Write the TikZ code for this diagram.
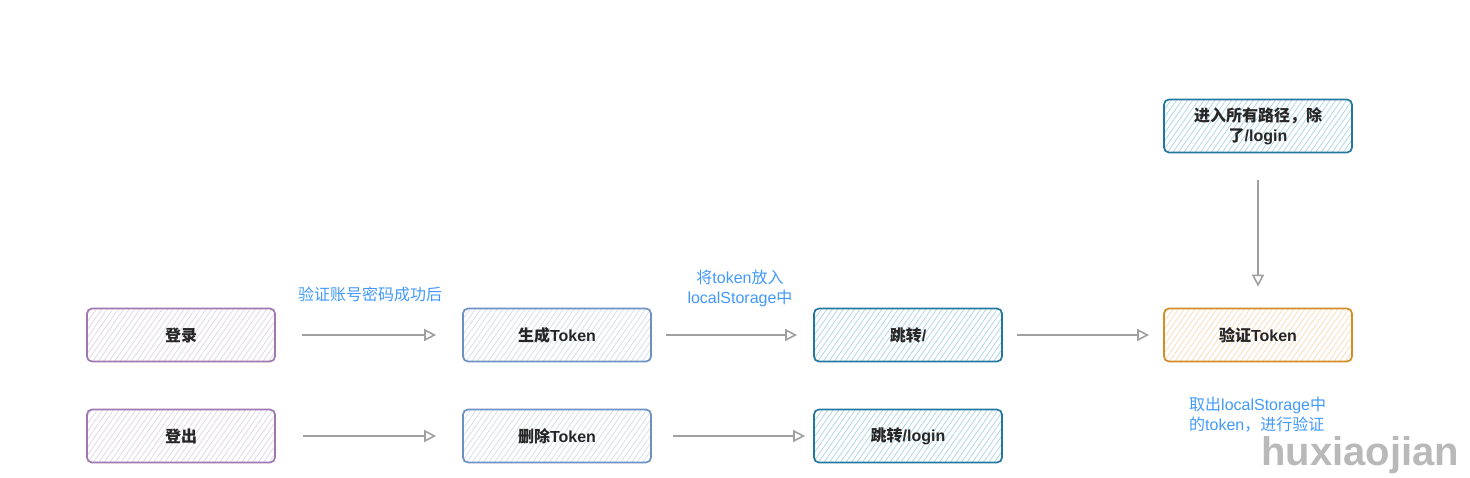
\documentclass[tikz,border=0pt]{standalone}
\usepackage{fontspec}
\setmainfont{Liberation Sans}
\newfontfamily\cjk{Noto Sans CJK SC}
\usetikzlibrary{arrows.meta,patterns.meta}
\definecolor{pstroke}{RGB}{160,120,175}
\definecolor{phatch}{RGB}{222,210,232}
\definecolor{bstroke}{RGB}{110,145,195}
\definecolor{bhatch}{RGB}{208,220,240}
\definecolor{tstroke}{RGB}{35,120,160}
\definecolor{thatch}{RGB}{170,210,230}
\definecolor{ostroke}{RGB}{210,140,40}
\definecolor{ohatch}{RGB}{250,218,180}
\definecolor{lblblue}{RGB}{66,153,250}
\definecolor{arrgray}{RGB}{160,160,160}
\tikzset{
  box/.style={rounded corners=5pt, line width=1.7pt, minimum width=188pt, minimum height=53pt,
    align=center, font=\fontsize{16}{20}\selectfont\bfseries, text=black!85,
    pattern={Lines[angle=55,distance=4.5pt,line width=0.7pt]}},
  purplebox/.style={box, draw=pstroke, pattern color=phatch},
  bluebox/.style={box, draw=bstroke, pattern color=bhatch},
  tealbox/.style={box, draw=tstroke, pattern color=thatch},
  orangebox/.style={box, draw=ostroke, pattern color=ohatch},
  conn/.style={draw=arrgray, line width=1.6pt, -{Triangle[open,length=12pt,width=12pt]}},
  lbl/.style={text=lblblue, font=\fontsize{16}{20}\selectfont, inner sep=0pt},
}
\begin{document}
\begin{tikzpicture}[x=1pt,y=-1pt]
\useasboundingbox (0,0) rectangle (1470,478);
\node[purplebox] (login) at (181,335) {{\cjk 登录}};
\node[purplebox] (logout) at (181,436) {{\cjk 登出}};
\node[bluebox] (gen) at (557,335) {{\cjk 生成}Token};
\node[bluebox] (del) at (557,436) {{\cjk 删除}Token};
\node[tealbox] (jump) at (908,335) {{\cjk 跳转}/};
\node[tealbox] (jumplogin) at (908,436) {{\cjk 跳转}/login};
\node[tealbox] (all) at (1258,126) {{\cjk 进入所有路径，除}\\{\cjk 了}/login};
\node[orangebox] (verify) at (1258,335) {{\cjk 验证}Token};

\draw[conn, shorten <=27pt, shorten >=26pt] (login) -- (gen);
\draw[conn, shorten <=27pt, shorten >=26pt] (logout) -- (del);
\draw[conn, shorten <=14pt, shorten >=16pt] (gen) -- (jump);
\draw[conn, shorten <=21pt, shorten >=8pt] (del) -- (jumplogin);
\draw[conn, shorten <=14pt, shorten >=14pt] (jump) -- (verify);
\draw[conn, shorten <=27pt, shorten >=21pt] (all) -- (verify);

\node[lbl] (l1) at (370,294) {{\cjk 验证账号密码成功后}};
\node[lbl, align=center] (l2) at (740,288) {{\cjk 将}token{\cjk 放入}\\localStorage{\cjk 中}};
\node[lbl, align=left, anchor=west] (l3) at (1189,415) {{\cjk 取出}localStorage{\cjk 中}\\{\cjk 的}token{\cjk ，进行验证}};

\node[anchor=west, inner sep=0pt, text=gray!55, font=\fontsize{40}{40}\selectfont\bfseries] (wm) at (1261,455) {huxiaojian};
\end{tikzpicture}
\end{document}
